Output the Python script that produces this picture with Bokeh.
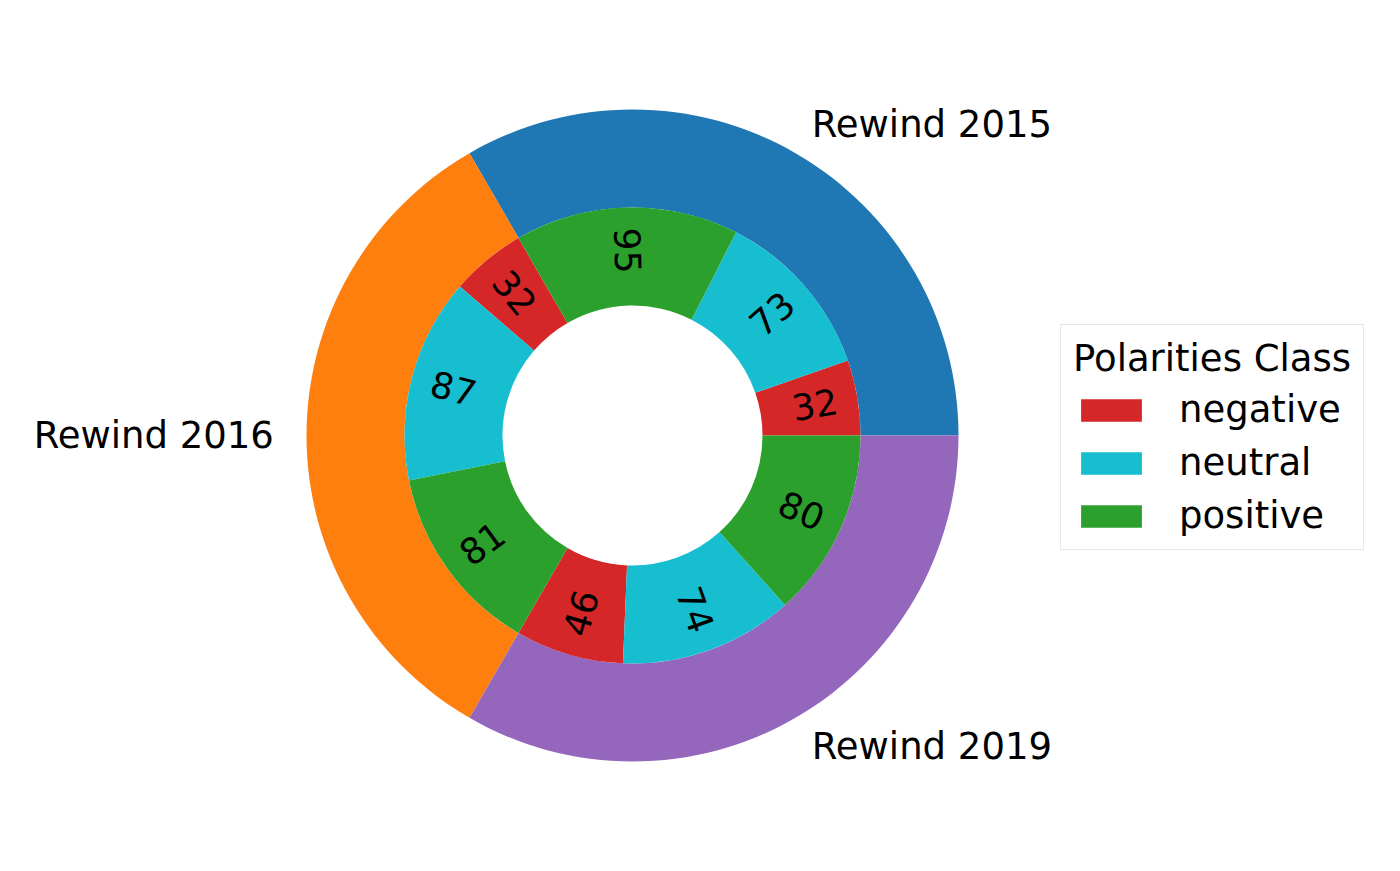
import numpy as np
from bokeh.plotting import figure
from bokeh.models import Range1d, Legend, LegendItem, ColumnDataSource
from bokeh.core.properties import value
from bokeh.embed import file_html
from bokeh.resources import INLINE

groups = ["Rewind 2015", "Rewind 2016", "Rewind 2019"]
group_colors = ["#1f77b4", "#ff7f0e", "#9467bd"]
classes = ["negative", "neutral", "positive"]
class_colors = {"negative": "#d62728", "neutral": "#17becf", "positive": "#2ca02c"}
inner_values = [32, 73, 95, 32, 87, 81, 46, 74, 80]
inner_classes = ["negative", "neutral", "positive"] * 3

W, H = 1384, 855
p = figure(width=W, height=H, output_backend="svg", toolbar_location=None,
           x_range=Range1d(0, W), y_range=Range1d(0, H), min_border=0)
p.axis.visible = False
p.grid.visible = False
p.outline_line_color = None

cx, cy = 632, 420
R_out, R_mid, R_in = 326, 228, 130
FONT = "DejaVu Sans"
FS = "37px"

gtot = [sum(inner_values[i*3:(i+1)*3]) for i in range(3)]
total = sum(gtot)
ga = np.cumsum([0] + [g / total * 2 * np.pi for g in gtot])
p.annular_wedge(x=cx, y=cy, inner_radius=R_mid, outer_radius=R_out,
                start_angle=ga[:-1], end_angle=ga[1:], color=group_colors, line_color=None)
for i, g in enumerate(groups):
    m = (ga[i] + ga[i+1]) / 2
    tx, ty = cx + 1.1 * R_out * np.cos(m), cy + 1.1 * R_out * np.sin(m)
    align = "left" if np.cos(m) > 0 else "right"
    p.text(x=[tx], y=[ty], text=[g], text_align=align, text_baseline="middle",
           text_font=value(FONT), text_font_size=FS, text_color="black")

ia = np.cumsum([0] + [v / total * 2 * np.pi for v in inner_values])
renderers = {}
for c in classes:
    idx = [k for k, ic in enumerate(inner_classes) if ic == c]
    r = p.annular_wedge(x=cx, y=cy, inner_radius=R_in, outer_radius=R_mid,
                        start_angle=[ia[k] for k in idx], end_angle=[ia[k+1] for k in idx],
                        color=class_colors[c], line_color=None)
    renderers[c] = r
mids = (ia[:-1] + ia[1:]) / 2
rots = [m - np.pi if np.pi / 2 < m < 3 * np.pi / 2 else m for m in mids]
src = ColumnDataSource(dict(x=cx + 185 * np.cos(mids), y=cy + 185 * np.sin(mids),
                            t=[str(v) for v in inner_values], a=rots))
p.text(x="x", y="y", text="t", angle="a", source=src, text_align="center",
       text_baseline="middle", text_font=value(FONT), text_font_size="36px", text_color="black")

legend = Legend(items=[LegendItem(label=c, renderers=[renderers[c]]) for c in classes],
                location=(1060, 305), title="Polarities Class",
                title_text_font=FONT, title_text_font_size=FS, title_text_font_style="normal",
                title_text_color="black", title_standoff=8,
                label_text_font=FONT, label_text_font_size=FS, label_text_color="black",
                glyph_width=76, glyph_height=28, label_standoff=30, spacing=10,
                padding=12, border_line_color="#cccccc", border_line_width=1,
                background_fill_alpha=0.9)
p.add_layout(legend)

open("out.html", "w").write(file_html(p, INLINE))
